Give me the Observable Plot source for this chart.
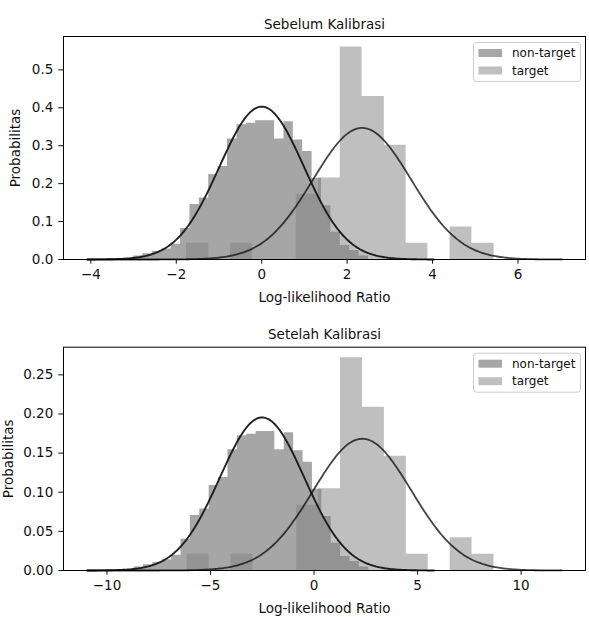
<!DOCTYPE html>
<html><head><meta charset="utf-8">
<script src="https://cdn.jsdelivr.net/npm/d3@7"></script>
<script src="https://cdn.jsdelivr.net/npm/@observablehq/plot@0.6"></script>
<style>
html,body{margin:0;padding:0;background:#fff;}
#fig{position:relative;width:589px;height:617px;overflow:hidden;background:#fff;}
#fig svg{position:absolute;left:0;}
</style></head><body><div id="fig"></div>
<script>
// ---------- data ----------
const titles = ["Sebelum Kalibrasi", "Setelah Kalibrasi"];
const xLabel = "Log-likelihood Ratio";
const yLabel = "Probabilitas";
const seriesNames = ["non-target", "target"];

// Top panel (Sebelum Kalibrasi)
const ntEdgesTop = [-3.00,-2.78,-2.56,-2.34,-2.12,-1.90,-1.68,-1.46,-1.24,-1.02,-0.80,-0.58,-0.36,-0.14,0.08,0.30,0.52,0.74,0.96,1.18,1.40,1.62,1.84,2.06,2.28,2.50];
const ntHeightsTop = [0.009,0.015,0.021,0.028,0.040,0.082,0.145,0.162,0.224,0.245,0.318,0.355,0.359,0.366,0.366,0.318,0.363,0.315,0.285,0.214,0.142,0.072,0.037,0.024,0.009];
const tgEdgesTop = [-1.76,-1.24,-0.73,-0.22,0.30,0.81,1.33,1.84,2.35,2.87,3.38,3.89,4.41,4.92,5.44];
const tgHeightsTop = [0.043,0,0.043,0,0,0.172,0.215,0.560,0.430,0.301,0.043,0,0.086,0.043];
const ntFitTop = [0.00, 0.99, -4.08, 4.03];   // mean, sd, from, to
const tgFitTop = [2.35, 1.15, -4.08, 7.03];
const xTicksTop = [-4,-2,0,2,4,6];
const yTicksTop = [0,0.1,0.2,0.3,0.4,0.5];
const xDomainTop = [-4.64, 7.58];
const yDomainTop = [0, 0.588];

// Bottom panel (Setelah Kalibrasi)
const ntEdgesBot = [-8.692,-8.239,-7.785,-7.332,-6.879,-6.425,-5.972,-5.519,-5.065,-4.612,-4.158,-3.705,-3.252,-2.798,-2.345,-1.892,-1.438,-0.985,-0.531,-0.078,0.375,0.829,1.282,1.735,2.189,2.642];
const ntHeightsBot = [0.0044,0.0073,0.0102,0.0136,0.0194,0.0398,0.0704,0.0786,0.1087,0.1189,0.1543,0.1723,0.1742,0.1776,0.1776,0.1543,0.1761,0.1529,0.1383,0.1038,0.0689,0.0349,0.0180,0.0116,0.0044];
const tgEdgesBot = [-6.131,-5.071,-4.014,-2.955,-1.896,-0.836,0.221,1.280,2.339,3.396,4.456,5.515,6.574,7.631,8.690];
const tgHeightsBot = [0.0209,0,0.0209,0,0,0.0835,0.1043,0.2717,0.2087,0.1461,0.0209,0,0.0417,0.0209];
const ntFitBot = [-2.51, 2.04, -10.95, 5.80];
const tgFitBot = [2.33, 2.37, -10.95, 11.96];
const xTicksBot = [-10,-5,0,5,10];
const yTicksBot = [0,0.05,0.10,0.15,0.20,0.25];
const xDomainBot = [-12.10, 13.11];
const yDomainBot = [0, 0.2853];

// ---------- drawing ----------
const FONT = "DejaVu Sans";
function steps(edges, heights) {
  return edges.map((e, i) => ({x: e, y: i < heights.length ? heights[i] : 0}));
}
function fitCurve(p) {
  const [m, s, a, b] = p;
  return d3.range(0, 301).map(i => {
    const x = a + (b - a) * i / 300;
    return {x, y: Math.exp(-0.5 * ((x - m) / s) ** 2) / (s * Math.sqrt(2 * Math.PI))};
  });
}

function panel(cfg) {
  const svg = Plot.plot({
    width: 589, height: cfg.height,
    marginTop: cfg.mt, marginBottom: cfg.mb, marginLeft: 63, marginRight: 4,
    style: {fontFamily: FONT, fontSize: "13.5px", color: "#111", background: "white", overflow: "visible"},
    x: {domain: cfg.xDomain},
    y: {domain: cfg.yDomain},
    marks: [
      Plot.areaY(steps(cfg.ntEdges, cfg.ntHeights), {x: "x", y: "y", curve: "step-after", fill: "#808080", fillOpacity: 0.7}),
      Plot.areaY(steps(cfg.tgEdges, cfg.tgHeights), {x: "x", y: "y", curve: "step-after", fill: "#808080", fillOpacity: 0.5}),
      Plot.line(fitCurve(cfg.ntFit), {x: "x", y: "y", stroke: "#111", strokeWidth: 1.9, strokeOpacity: 0.92}),
      Plot.line(fitCurve(cfg.tgFit), {x: "x", y: "y", stroke: "#111", strokeWidth: 1.8, strokeOpacity: 0.78}),
      Plot.frame({stroke: "#000", strokeWidth: 1}),
      Plot.axisX({ticks: cfg.xTicks, tickFormat: d3.format("d"), tickSize: 4.7, tickPadding: 5.5, label: null, fontSize: 13.5}),
      Plot.axisY({ticks: cfg.yTicks, tickFormat: d3.format(cfg.yFmt), tickSize: 4.7, tickPadding: 5.5, label: null, fontSize: 13.5}),
      Plot.text([cfg.title], {text: d => d, frameAnchor: "top", dy: -17.5, fontSize: 13.5, fill: "#111"}),
      Plot.text([xLabel], {text: d => d, frameAnchor: "bottom", dy: 42, fontSize: 13.5, fill: "#111"}),
      Plot.text([yLabel], {text: d => d, frameAnchor: "left", textAnchor: "middle", rotate: -90, dx: cfg.ylabDx, fontSize: 13.5, fill: "#111"})
    ]
  });
  svg.style.top = cfg.top + "px";
  // legend (upper right, matplotlib style)
  const g = d3.select(svg).append("g").attr("font-family", FONT).attr("font-size", 12).attr("text-anchor", "start");
  const bx = 473.5, by = cfg.mt + 6.5;
  g.append("rect").attr("x", bx).attr("y", by).attr("width", 107).attr("height", 39)
    .attr("rx", 3).attr("fill", "white").attr("fill-opacity", 0.8).attr("stroke", "#cccccc");
  seriesNames.forEach((name, i) => {
    g.append("rect").attr("x", bx + 5).attr("y", by + 6.5 + i * 17.5).attr("width", 23.5).attr("height", 8)
      .attr("fill", "#808080").attr("fill-opacity", i === 0 ? 0.7 : 0.5);
    g.append("text").attr("x", bx + 38.5).attr("y", by + 10.5 + i * 17.5).attr("dy", "0.35em")
      .attr("text-anchor", "start").attr("fill", "#111").text(name);
  });
  document.getElementById("fig").appendChild(svg);
}

panel({top: 0, height: 309, mt: 36, mb: 50, title: titles[0],
  ntEdges: ntEdgesTop, ntHeights: ntHeightsTop, tgEdges: tgEdgesTop, tgHeights: tgHeightsTop,
  ntFit: ntFitTop, tgFit: tgFitTop, xTicks: xTicksTop, yTicks: yTicksTop, yFmt: ".1f",
  xDomain: xDomainTop, yDomain: yDomainTop, ylabDx: -48});
panel({top: 308, height: 309, mt: 38.7, mb: 47, title: titles[1],
  ntEdges: ntEdgesBot, ntHeights: ntHeightsBot, tgEdges: tgEdgesBot, tgHeights: tgHeightsBot,
  ntFit: ntFitBot, tgFit: tgFitBot, xTicks: xTicksBot, yTicks: yTicksBot, yFmt: ".2f",
  xDomain: xDomainBot, yDomain: yDomainBot, ylabDx: -55});
</script></body></html>
